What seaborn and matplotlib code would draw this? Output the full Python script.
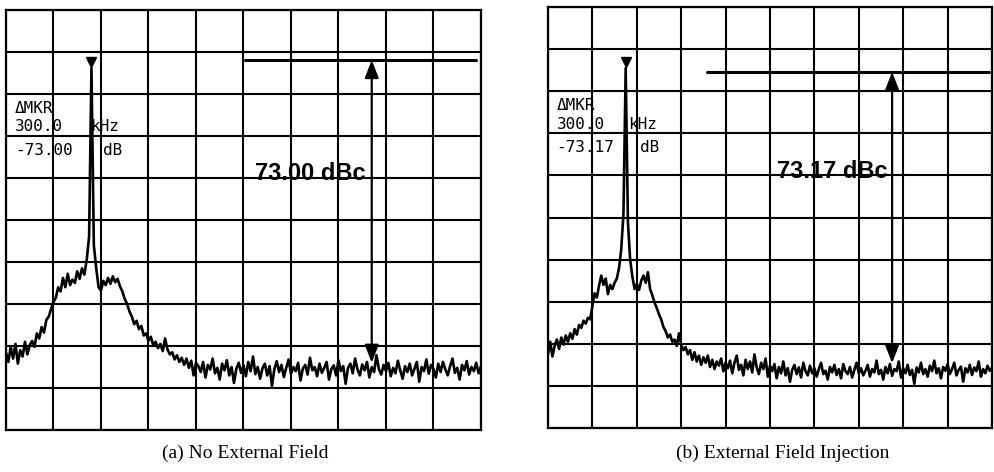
import numpy as np
import pandas as pd
import matplotlib
matplotlib.use("Agg")
import matplotlib.pyplot as plt
import seaborn as sns


# spectrum traces, in graticule divisions (0 = bottom line)
# one reading every 0.05 division across the 10 division sweep
trace_a = [1.85, 1.62, 1.98, 1.70, 2.05, 1.58, 1.90, 1.75, 2.10, 1.80, 2.02,
           2.12, 1.98, 2.30, 2.18, 2.45, 2.32, 2.62, 2.70, 2.88, 3.05,
           3.15, 3.40, 3.30, 3.62, 3.40, 3.72, 3.45, 3.58, 3.50, 3.78,
           3.60, 3.85, 3.70, 4.05, 4.60, 8.62, 4.40, 3.85, 3.40, 3.32,
           3.55, 3.45, 3.62, 3.48, 3.66, 3.52, 3.60, 3.42, 3.30, 3.12,
           3.00, 2.82, 2.70, 2.52, 2.60, 2.40, 2.48, 2.25, 2.30, 2.12,
           2.22, 2.02, 2.10, 1.95, 2.05, 1.88, 2.18, 1.92, 1.80, 1.85,
           1.68, 1.78, 1.62, 1.72, 1.55, 1.70, 1.48, 1.65, 1.30, 1.60,
           1.52, 1.38, 1.62, 1.25, 1.55, 1.44, 1.70, 1.35, 1.48, 1.20,
           1.58, 1.42, 1.66, 1.30, 1.50, 1.12, 1.46, 1.60, 1.36, 1.54,
           1.28, 1.62, 1.40, 1.75, 1.33, 1.50, 1.22, 1.47, 1.58, 1.30,
           1.52, 1.05, 1.45, 1.64, 1.38, 1.55, 1.26, 1.48, 1.68, 1.34,
           1.50, 1.40, 1.60, 1.18, 1.46, 1.55, 1.32, 1.72, 1.42, 1.50,
           1.28, 1.58, 1.36, 1.48, 1.62, 1.20, 1.45, 1.54, 1.30, 1.66,
           1.40, 1.52, 1.10, 1.48, 1.58, 1.35, 1.70, 1.44, 1.30, 1.56,
           1.42, 1.62, 1.25, 1.50, 1.38, 1.78, 1.45, 1.32, 1.55, 1.40,
           1.60, 1.28, 1.48, 1.35, 1.65, 1.42, 1.22, 1.52, 1.38, 1.58,
           1.30, 1.46, 1.62, 1.15, 1.50, 1.40, 1.68, 1.34, 1.55, 1.45,
           1.25, 1.58, 1.38, 1.62, 1.44, 1.30, 1.52, 1.70, 1.36, 1.48,
           1.20, 1.55, 1.42, 1.64, 1.32, 1.50, 1.40, 1.60, 1.35, 1.52]

trace_b = [1.75, 2.05, 1.70, 1.95, 2.10, 1.88, 2.15, 1.98, 2.20, 2.05, 2.25,
           2.12, 2.35, 2.22, 2.45, 2.38, 2.55, 2.48, 2.62, 2.58, 2.90,
           3.20, 3.10, 3.38, 3.62, 3.40, 3.55, 3.18, 3.40, 3.30, 3.45,
           3.55, 3.80, 4.25, 5.10, 8.55, 4.90, 4.00, 3.60, 3.30, 3.42,
           3.28, 3.50, 3.62, 3.45, 3.70, 3.30, 3.15, 2.98, 2.85, 2.70,
           2.58, 2.40, 2.30, 2.15, 2.22, 2.05, 2.10, 1.95, 2.25, 1.98,
           1.85, 1.92, 1.75, 1.85, 1.62, 1.80, 1.58, 1.72, 1.50, 1.68,
           1.55, 1.72, 1.45, 1.62, 1.40, 1.58, 1.48, 1.65, 1.35, 1.55,
           1.42, 1.60, 1.30, 1.55, 1.72, 1.38, 1.50, 1.25, 1.62, 1.40,
           1.58, 1.32, 1.75, 1.44, 1.28, 1.55, 1.40, 1.65, 1.22, 1.48,
           1.35, 1.52, 1.18, 1.45, 1.30, 1.58, 1.25, 1.42, 1.10, 1.38,
           1.50, 1.28, 1.44, 1.20, 1.55, 1.35, 1.25, 1.48, 1.30, 1.42,
           1.22, 1.40, 1.55, 1.28, 1.36, 1.15, 1.45, 1.32, 1.50, 1.26,
           1.40, 1.18, 1.52, 1.35, 1.28, 1.45, 1.20, 1.38, 1.55, 1.30,
           1.42, 1.25, 1.36, 1.50, 1.22, 1.40, 1.32, 1.60, 1.28, 1.38,
           1.15, 1.45, 1.30, 1.52, 1.24, 1.40, 1.35, 1.58, 1.20, 1.42,
           1.30, 1.50, 1.26, 1.38, 1.05, 1.44, 1.32, 1.55, 1.28, 1.40,
           1.22, 1.48, 1.35, 1.60, 1.30, 1.42, 1.18, 1.45, 1.36, 1.52,
           1.28, 1.40, 1.55, 1.25, 1.38, 1.46, 1.10, 1.42, 1.32, 1.50,
           1.26, 1.44, 1.35, 1.58, 1.22, 1.40, 1.30, 1.48, 1.36, 1.42]

step = 0.05  # divisions between readings

# marker / delta-marker readings (divisions)
peak_x = [1.80, 1.75]
peak_y = [8.76, 8.69]
ref_level = [8.81, 8.46]
ref_start = [5.03, 3.58]
ref_end = [9.90, 9.93]
arrow_x = [7.70, 7.75]
floor_level = [1.60, 1.54]

delta_labels = ["73.00 dBc", "73.17 dBc"]
mkr_freq = ["300.0", "300.0"]
mkr_ampl = ["-73.00", "-73.17"]
captions = ["(a) No External Field", "(b) External Field Injection"]

sns.set_theme(style="white")
plt.rcParams["font.family"] = ["Liberation Serif", "DejaVu Serif"]
plt.rcParams["text.color"] = "black"

fig = plt.figure(figsize=(9.94, 4.72), dpi=100)
axes = [fig.add_axes([0.0060, 0.0890, 0.4779, 0.8898]),
        fig.add_axes([0.5513, 0.0932, 0.4467, 0.8919])]

traces = [trace_a, trace_b]
kHz_x = [1.77, 1.80]
dB_x = [2.04, 2.07]
cap_x = [0.247, 0.787]

for k, ax in enumerate(axes):
    df = pd.DataFrame({"freq": np.arange(len(traces[k])) * step, "level": traces[k]})
    sns.lineplot(data=df, x="freq", y="level", ax=ax, color="black",
                 linewidth=1.9, estimator=None, sort=False)

    # graticule
    ax.set_xlim(0, 10)
    ax.set_ylim(0, 10)
    ax.set_xticks(range(11))
    ax.set_yticks(range(11))
    ax.grid(True, color="black", linewidth=1.5)
    ax.tick_params(length=0, labelbottom=False, labelleft=False)
    for s in ax.spines.values():
        s.set_color("black")
        s.set_linewidth(1.6)
    ax.set_xlabel("")
    ax.set_ylabel("")

    # peak marker
    ax.plot(peak_x[k], peak_y[k], marker="v", ms=7, color="black")

    # delta marker reference line and arrow
    ax.plot([ref_start[k], ref_end[k]], [ref_level[k], ref_level[k]],
            color="black", linewidth=2.2)
    ax.annotate("", xy=(arrow_x[k], ref_level[k]), xytext=(arrow_x[k], floor_level[k]),
                arrowprops=dict(arrowstyle="<|-|>,head_length=0.9,head_width=0.35",
                                color="black", lw=1.6, shrinkA=0, shrinkB=0))
    ax.text(6.4, 6.1, delta_labels[k], ha="center", va="center", color="black",
            fontsize=17, fontweight="bold", family="Liberation Sans")

    # on-screen readout
    mono = dict(family="DejaVu Sans Mono", fontsize=11.5, va="center", ha="left",
                color="black")
    ax.text(0.19, 7.65, "\u0394MKR", **mono)
    ax.text(0.19, 7.22, mkr_freq[k], **mono)
    ax.text(kHz_x[k], 7.22, "kHz", **mono)
    ax.text(0.19, 6.66, mkr_ampl[k], **mono)
    ax.text(dB_x[k], 6.66, "dB", **mono)

    fig.text(cap_x[k], 0.040, captions[k], ha="center", va="center",
             fontsize=14, color="black")

plt.savefig("out.png", dpi=100)
